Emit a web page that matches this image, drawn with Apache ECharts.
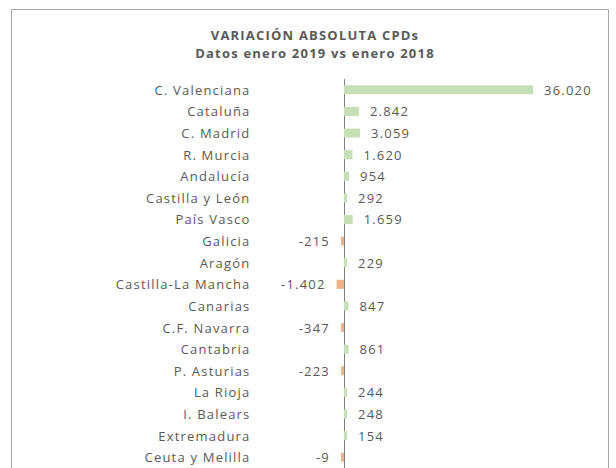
<!DOCTYPE html>
<html>
<head>
  <meta charset="utf-8">
  <script src="https://cdn.jsdelivr.net/npm/echarts@6/dist/echarts.min.js"></script>
</head>
<style>
  html, body { margin: 0; padding: 0; background: #fff; }
  /* the source chart sets its labels a little apart */
  #main text { letter-spacing: 1.2px; }
</style>
<body>
  <div id="main" style="width: 616px;height:468px;"></div>
  <script>
    var regions = ['C. Valenciana', 'Cataluña', 'C. Madrid', 'R. Murcia', 'Andalucía',
      'Castilla y León', 'País Vasco', 'Galicia', 'Aragón', 'Castilla-La Mancha',
      'Canarias', 'C.F. Navarra', 'Cantabria', 'P. Asturias', 'La Rioja',
      'I. Balears', 'Extremadura', 'Ceuta y Melilla'];
    var variation = [36020, 2842, 3059, 1620, 954, 292, 1659, -215, 229, -1402,
      847, -347, 861, -223, 244, 248, 154, -9];

    var textColor = '#595959';

    // 36.020 style: dot as thousands separator
    function fmt(v) {
      var s = String(Math.abs(v)).replace(/\B(?=(\d{3})+(?!\d))/g, '.');
      return (v < 0 ? '-' : '') + s;
    }

    var barData = variation.map(function (v) {
      return {
        value: v,
        itemStyle: { color: v < 0 ? '#f4b183' : '#c5e0b4' },
        label: { position: v < 0 ? 'left' : 'right' }
      };
    });

    var myChart = echarts.init(document.getElementById('main'), null, { renderer: 'svg' });

    var titleFont = {
      fontFamily: 'Open Sans',
      fontSize: 13,
      fontWeight: 'bold',
      color: textColor,
      lineHeight: 16
    };

    var option = {
      animation: false,
      graphic: [{
        type: 'rect',
        shape: { x: 11.5, y: 9.5, width: 597, height: 480 },
        style: { fill: 'none', stroke: '#a6a6a6', lineWidth: 1 },
        z: 0
      }],
      title: {
        text: 'VARIACIÓN ABSOLUTA CPDs',
        subtext: 'Datos enero 2019 vs enero 2018',
        left: 310,
        textAlign: 'center',
        top: 22,
        itemGap: 2,
        textStyle: titleFont,
        subtextStyle: titleFont
      },
      grid: { left: 291.5, top: 79, width: 262.5, height: 392 },
      xAxis: {
        type: 'value',
        min: -10000,
        max: 40000,
        show: false
      },
      yAxis: {
        type: 'category',
        data: regions,
        inverse: true,
        axisLine: { show: false },
        axisTick: { show: false },
        axisLabel: {
          margin: 41,
          fontFamily: 'Open Sans',
          fontSize: 13,
          color: textColor
        }
      },
      series: [{
        type: 'bar',
        z: 2,
        data: barData,
        barWidth: 9,
        barMinHeight: 3,
        label: {
          show: true,
          distance: 11,
          fontFamily: 'Open Sans',
          fontSize: 13,
          color: textColor,
          formatter: function (p) { return fmt(p.value); }
        },
        // vertical zero line, kept under the bars
        markLine: {
          z: 1,
          silent: true,
          symbol: 'none',
          label: { show: false },
          lineStyle: { color: '#7f7f7f', type: 'solid', width: 1 },
          data: [{ xAxis: 0 }]
        }
      }]
    };

    myChart.setOption(option);
  </script>
</body>
</html>
